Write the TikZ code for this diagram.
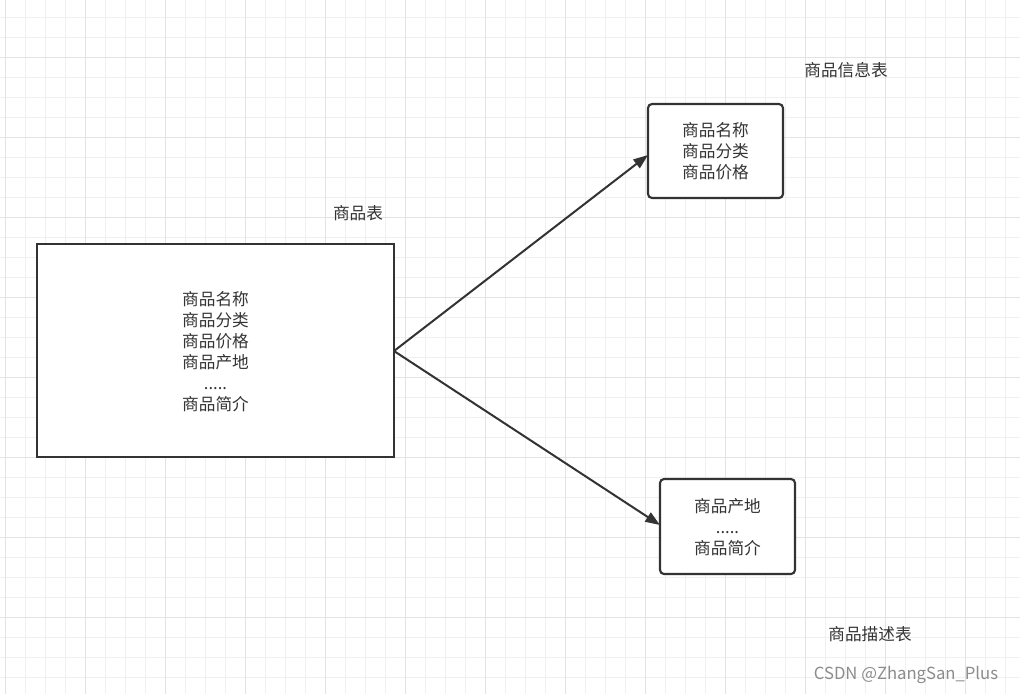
\documentclass[tikz,border=0pt]{standalone}
\usepackage{fontspec}
\setmainfont{Noto Sans CJK SC}
\usetikzlibrary{arrows.meta}
\begin{document}
\begin{tikzpicture}[x=0.75pt,y=-0.75pt,
  box/.style={draw=black!80,line width=1.6pt,fill=white,inner sep=0},
  lbl/.style={font=\fontsize{12.5}{15.75}\selectfont,text=black!80,align=center},
  arr/.style={draw=black!80,line width=1.5pt,-{Triangle[length=11pt,width=8pt]}}]
\useasboundingbox (0,0) rectangle (1020,694);
\fill[white] (0,0) rectangle (1020,694);
\foreach \x in {5,25,...,1020} \draw[black!6,line width=0.75pt] (\x,0) -- (\x,694);
\foreach \y in {17,37,...,694} \draw[black!6,line width=0.75pt] (0,\y) -- (1020,\y);
\foreach \x in {5,85,...,1020} \draw[black!11,line width=0.75pt] (\x,0) -- (\x,694);
\foreach \y in {57,137,...,694} \draw[black!11,line width=0.75pt] (0,\y) -- (1020,\y);
\draw[box] (37,244) rectangle (394,457);
\node[lbl] (t1) at (215.5,352) {商品名称\\商品分类\\商品价格\\商品产地\\.....\\商品简介};
\draw[box,rounded corners=3pt] (648,104) rectangle (783,198);
\node[lbl] (t2) at (715.5,151) {商品名称\\商品分类\\商品价格};
\draw[box,rounded corners=3pt] (660,479) rectangle (795,574);
\node[lbl] (t3) at (727.5,527) {商品产地\\.....\\商品简介};
\coordinate (s) at (394,351);
\coordinate (e1) at (648,155);
\coordinate (e2) at (660,525);
\draw[arr] (s) -- (e1);
\draw[arr] (s) -- (e2);
\node[lbl] (l1) at (358,213) {商品表};
\node[lbl] (l2) at (846,70) {商品信息表};
\node[lbl] (l3) at (870,634) {商品描述表};
\node[lbl,text=black!45] (w) at (906,675) {CSDN @ZhangSan\_Plus};
\end{tikzpicture}
\end{document}
